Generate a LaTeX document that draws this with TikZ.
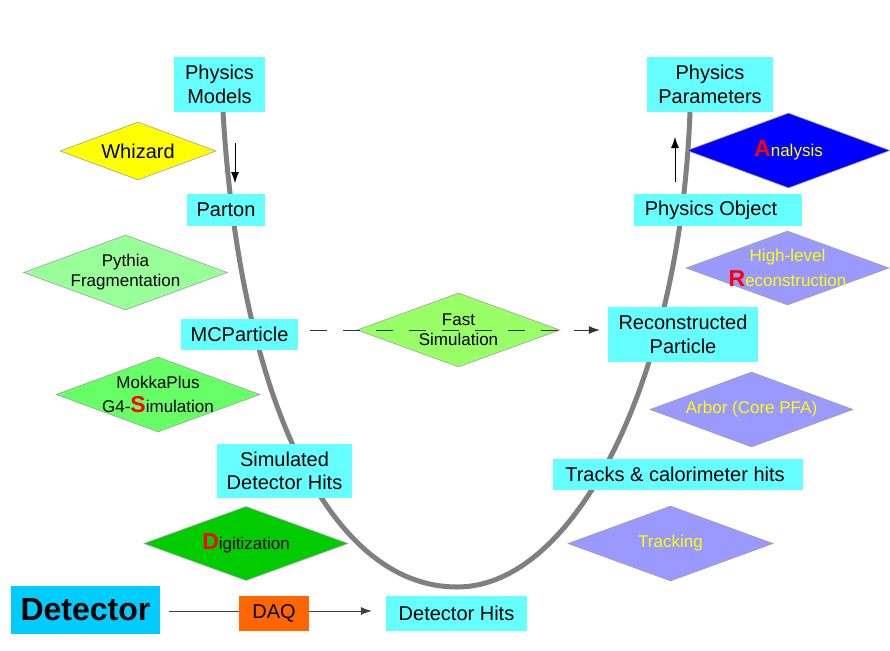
\documentclass[tikz,border=0pt]{standalone}
\usepackage{fontspec}
\setmainfont{Liberation Sans}
\usetikzlibrary{shapes.geometric,arrows.meta,calc}
\definecolor{boxc}{HTML}{66FFFF}
\definecolor{detc}{HTML}{00CCFF}
\definecolor{daqc}{HTML}{FF6600}
\definecolor{whizc}{HTML}{FFFF00}
\definecolor{pythc}{HTML}{99FF99}
\definecolor{mokkac}{HTML}{66FF66}
\definecolor{digic}{HTML}{00CC00}
\definecolor{fastc}{HTML}{99FF66}
\definecolor{anac}{HTML}{0000FF}
\definecolor{recoc}{HTML}{9999FF}
\definecolor{ytext}{HTML}{FFFF00}
\definecolor{curvec}{HTML}{808080}
\newcommand{\bigred}[1]{{\color{red}\fontsize{23}{24}\selectfont\bfseries #1}}
\begin{document}
\begin{tikzpicture}[x=1pt,y=-1pt,
  box/.style={fill=boxc, inner sep=0pt, align=center, font=\fontsize{20}{23.5}\selectfont},
  dia/.style={diamond, draw=gray!75, line width=0.6pt, inner sep=0pt, minimum width=204pt, minimum height=75pt},
  dtext/.style={align=center, inner sep=0pt, font=\fontsize{17}{20}\selectfont},
  thin arrow/.style={line width=0.8pt, -{Latex[length=11pt,width=8pt]}}
]
\useasboundingbox (0,0) rectangle (890,650);

% U-shaped flow curve
\coordinate (cl) at (223,112);
\coordinate (cb) at (457,587);
\coordinate (cr) at (690,112);
\draw[line width=5pt, curvec] (cl) .. controls (240,400) and (330,587) .. (cb)
  .. controls (575,587) and (680,380) .. (cr);

% diamonds
\node[dia, fill=whizc, minimum width=156pt, minimum height=58pt] (whiz) at (138,151) {};
\node[dtext, font=\fontsize{20}{24}\selectfont] (whizt) at (whiz) {Whizard};
\node[dia, fill=pythc] (pyth) at (125.5,272.5) {};
\node[dtext] (pytht) at (pyth) {Pythia\\Fragmentation};
\node[dia, fill=mokkac] (mokka) at (158,394.5) {};
\node[dtext, font=\fontsize{17}{24}\selectfont] (mokkat) at (mokka) {MokkaPlus\\G4-\bigred{S}imulation};
\node[dia, fill=digic, minimum height=74pt] (digi) at (246,543.5) {};
\node[dtext] (digit) at (digi) {\bigred{D}igitization};
\node[dia, fill=fastc, minimum width=203pt, minimum height=74pt] (fast) at (458.5,330) {};
\node[dtext] (fastt) at (fast) {Fast\\Simulation};
\node[dia, fill=anac, minimum width=203pt] (ana) at (788.5,150.5) {};
\node[dtext, text=ytext] (anat) at (ana) {\bigred{A}nalysis};
\node[dia, fill=recoc, minimum width=203pt, minimum height=74pt] (hlr) at (787.5,268) {};
\node[dtext, text=ytext, font=\fontsize{17}{25}\selectfont] (hlrt) at (hlr) {High-level\\\bigred{R}econstruction};
\node[dia, fill=recoc, minimum width=203pt] (arbor) at (751.5,409.5) {};
\node[dtext, text=ytext, font=\fontsize{17}{20}\selectfont] (arbort) at (arbor) {Arbor (Core PFA)};
\node[dia, fill=recoc, minimum width=205pt] (track) at (670.5,543.5) {};
\node[dtext, text=ytext] (trackt) at (track) {Tracking};

% boxes
\node[box, minimum width=91pt, minimum height=55pt] (pm) at (219.5,84.5) {Physics\\Models};
\node[box, minimum width=78pt, minimum height=32pt] (parton) at (226,210) {Parton};
\node[box, minimum width=117pt, minimum height=31pt] (mcp) at (239.5,334.5) {MCParticle};
\node[box, minimum width=135pt, minimum height=54pt] (sdh) at (284.5,471) {Simulated\\Detector Hits};
\node[box, fill=detc, minimum width=149pt, minimum height=48pt, font=\fontsize{32}{36}\selectfont\bfseries] (det) at (85.5,610) {Detector};
\node[box, fill=daqc, minimum width=70pt, minimum height=35pt] (daq) at (274,613.5) {DAQ};
\node[box, minimum width=141pt, minimum height=35pt] (dh) at (456.5,613.5) {Detector Hits};
\node[box, minimum width=150pt, minimum height=55pt] (recp) at (683,334.5) {Reconstructed\\Particle};
\node[box, minimum width=126pt, minimum height=55pt] (pp) at (710,84.5) {Physics\\Parameters};
\node[box, minimum width=168pt, minimum height=32pt] (po) at (718,210) {Physics Object\hspace*{14pt}};
\node[box, minimum width=250pt, minimum height=31pt] (tch) at (678,474.5) {Tracks \& calorimeter hits\hspace*{6pt}};

% connectors
\coordinate (downA) at (235,143);
\coordinate (downB) at (235,183);
\draw[thin arrow] (downA) -- (downB);
\coordinate (upA) at (675,182);
\coordinate (upB) at (675,137);
\draw[thin arrow] (upA) -- (upB);

\coordinate (dl) at ($(det.east)+(9,1)$);
\draw[line width=0.8pt, black!75] (dl) -- (dl -| daq.west);
\coordinate (dr) at ($(dh.west |- dl)+(-14,0)$);
\draw[thin arrow, black!75] (dr -| daq.east) -- (dr);

\coordinate (fl) at ($(mcp.east |- fast.west)+(12,0)$);
\coordinate (fr) at ($(recp.west |- fast.east)+(-8,0)$);
\draw[line width=0.8pt, black!80, dash pattern=on 17pt off 16pt, -{Latex[length=11pt,width=8pt]}]
  (fl) -- (fr);
\end{tikzpicture}
\end{document}
